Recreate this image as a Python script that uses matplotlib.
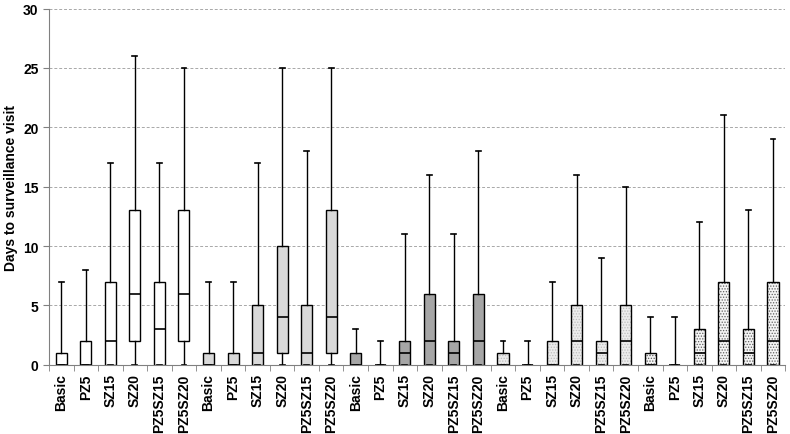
import matplotlib
matplotlib.use("Agg")
import matplotlib.pyplot as plt
from matplotlib.patches import PathPatch
import numpy as np

plt.rcParams['font.family'] = ['Liberation Sans', 'DejaVu Sans']
plt.rcParams['hatch.linewidth'] = 0.6

scenarios = ['Basic', 'PZ5', 'SZ15', 'SZ20', 'PZ5SZ15', 'PZ5SZ20']
n_groups = 5

# box stats per group, order of scenarios
q1 = [[0, 0, 0, 2, 0, 2],
      [0, 0, 0, 1, 0, 1],
      [0, 0, 0, 0, 0, 0],
      [0, 0, 0, 0, 0, 0],
      [0, 0, 0, 0, 0, 0]]
med = [[0, 0, 2, 6, 3, 6],
       [0, 0, 1, 4, 1, 4],
       [0, 0, 1, 2, 1, 2],
       [0, 0, 0, 2, 1, 2],
       [0, 0, 1, 2, 1, 2]]
q3 = [[1, 2, 7, 13, 7, 13],
      [1, 1, 5, 10, 5, 13],
      [1, 0, 2, 6, 2, 6],
      [1, 0, 2, 5, 2, 5],
      [1, 0, 3, 7, 3, 7]]
wmax = [[7, 8, 17, 26, 17, 25],
        [7, 7, 17, 25, 18, 25],
        [3, 2, 11, 16, 11, 18],
        [2, 2, 7, 16, 9, 15],
        [4, 4, 12, 21, 13, 19]]

group_face = ['white', '#d9d9d9', '#a6a6a6', '#ececec', '#f4f4f4']
group_hatch = [None, None, None, '......', '......']
group_hcolor = [None, None, None, '#bdbdbd', '#606060']

stats = []
labels = []
for g in range(n_groups):
    for i, s in enumerate(scenarios):
        stats.append(dict(med=med[g][i], q1=q1[g][i], q3=q3[g][i],
                          whislo=0, whishi=wmax[g][i], fliers=[]))
        labels.append(s)

fig = plt.figure(figsize=(7.9, 4.35), dpi=100)
ax = fig.add_axes([0.062, 0.159, 0.932, 0.819])

pos = np.arange(1, len(stats) + 1)
bp = ax.bxp(stats, positions=pos, widths=0.45, showfliers=False,
            patch_artist=True,
            boxprops=dict(edgecolor='black', linewidth=1.0),
            medianprops=dict(color='black', linewidth=1.2),
            whiskerprops=dict(color='black', linewidth=1.0),
            capprops=dict(color='black', linewidth=1.2),
            capwidths=0.2)

for k, box in enumerate(bp['boxes']):
    g = k // len(scenarios)
    box.set_facecolor(group_face[g])
    if group_hatch[g]:
        box.set_edgecolor(group_hcolor[g])
        box.set_hatch(group_hatch[g])
        box.set_linewidth(0)
        outline = PathPatch(box.get_path(), facecolor='none', edgecolor='black',
                            linewidth=1.0, zorder=box.get_zorder() + 0.1)
        ax.add_patch(outline)

ax.set_xlim(0.5, len(stats) + 0.5)
ax.set_ylim(0, 30)
ax.set_yticks(range(0, 31, 5))
ax.set_yticklabels([str(v) for v in range(0, 31, 5)], fontsize=10, fontweight='bold')
ax.set_xticks(pos)
ax.set_xticklabels(labels, rotation=90, fontsize=10, fontweight='bold')
ax.tick_params(axis='x', which='major', length=0, pad=6)
ax.set_xticks(np.arange(0.5, len(stats) + 1, 1), minor=True)
ax.tick_params(axis='x', which='minor', length=4, color='#808080')
ax.tick_params(axis='y', length=4, color='#808080')

ax.set_ylabel('Days to surveillance visit', fontsize=10, fontweight='bold')
ax.yaxis.grid(True, linestyle=(0, (3, 2)), color='#a8a8a8', linewidth=0.7)
ax.set_axisbelow(True)
for side in ['top', 'right']:
    ax.spines[side].set_visible(False)
for side in ['left', 'bottom']:
    ax.spines[side].set_color('#808080')

fig.savefig('out.png', dpi=100)
